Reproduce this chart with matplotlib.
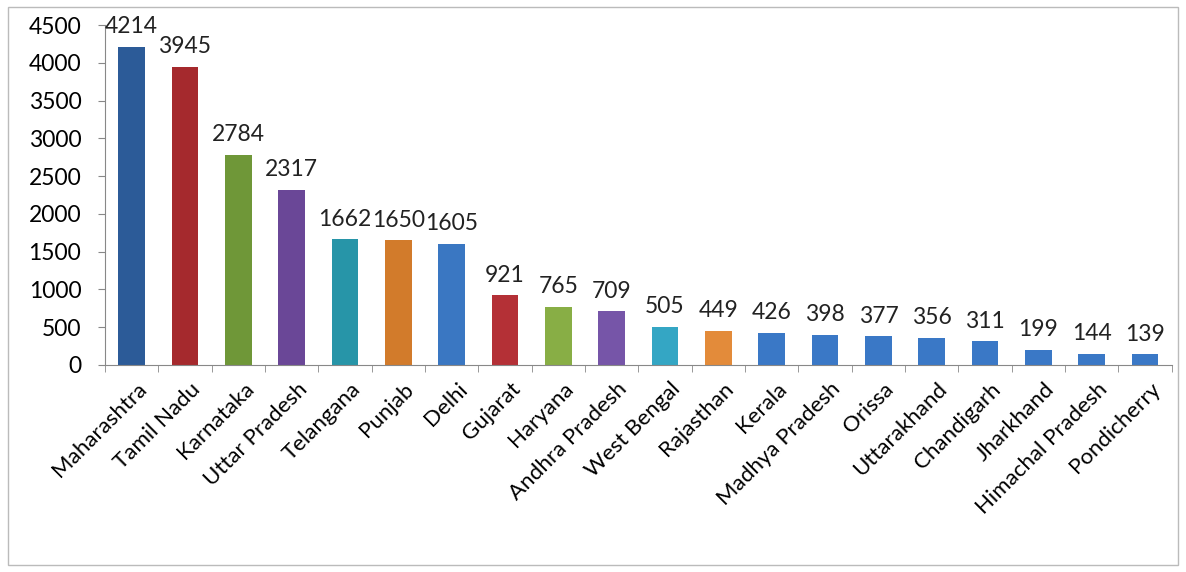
import matplotlib.pyplot as plt

states = ['Maharashtra', 'Tamil Nadu', 'Karnataka', 'Uttar Pradesh', 'Telangana',
          'Punjab', 'Delhi', 'Gujarat', 'Haryana', 'Andhra Pradesh', 'West Bengal',
          'Rajasthan', 'Kerala', 'Madhya Pradesh', 'Orissa', 'Uttarakhand',
          'Chandigarh', 'Jharkhand', 'Himachal Pradesh', 'Pondicherry']
counts = [4214, 3945, 2784, 2317, 1662, 1650, 1605, 921, 765, 709, 505, 449,
          426, 398, 377, 356, 311, 199, 144, 139]
colors = ['#2C5B98', '#A5292D', '#6F9738', '#6A4797', '#2795A8', '#D27B2B',
          '#3A77C2', '#B43036', '#88AE45', '#7655A8', '#34A6C4', '#E38B3A'] + ['#3A78C6'] * 8
yticks = [0, 500, 1000, 1500, 2000, 2500, 3000, 3500, 4000, 4500]

plt.rcParams['font.family'] = ['Lato', 'DejaVu Sans']

fig = plt.figure(figsize=(11.86, 5.72), dpi=100)
ax = fig.add_axes([0.0885, 0.362, 0.8995, 0.594])

x = range(len(states))
ax.bar(x, counts, width=0.5, color=colors)
for i, v in enumerate(counts):
    ax.annotate(str(v), (i, v), xytext=(0, 7), textcoords='offset points',
                ha='center', va='bottom', fontsize=16.5, color='#222222')

ax.set_xlim(-0.5, len(states) - 0.5)
ax.set_ylim(0, 4500)
ax.set_yticks(yticks)
ax.set_xticks([i - 0.5 for i in range(len(states) + 1)], minor=True)
ax.set_xticks([i + 0.1 for i in x])
ax.set_xticklabels(states, rotation=45, ha='right', rotation_mode='anchor', fontsize=16)
ax.tick_params(axis='x', which='major', length=0, pad=10)
ax.tick_params(axis='x', which='minor', length=5, color='#888888')
ax.tick_params(axis='y', labelsize=16.5, length=5, color='#888888', pad=12)
for s in ['top', 'right']:
    ax.spines[s].set_visible(False)
for s in ['left', 'bottom']:
    ax.spines[s].set_color('#888888')

border = plt.Rectangle((0.007, 0.012), 0.986, 0.975, transform=fig.transFigure,
                       fill=False, edgecolor='#BBBBBB', linewidth=1)
fig.patches.append(border)

fig.savefig('out.png')
